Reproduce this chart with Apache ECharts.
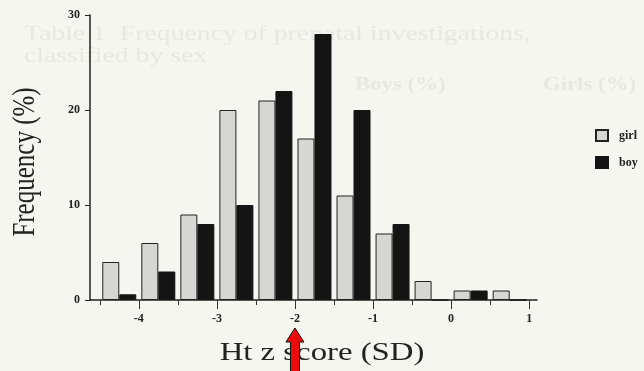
<!DOCTYPE html>
<html>
<head>
<meta charset="utf-8">
<script src="https://cdn.jsdelivr.net/npm/echarts@6/dist/echarts.min.js"></script>
<style>
  html, body { margin: 0; padding: 0; background: #f6f6f1; }
  #main { width: 644px; height: 371px; }
</style>
</head>
<body>
<div id="main"></div>
<script>
// bin mid points of the half-SD height z score classes
const binMids = [-4.25, -3.75, -3.25, -2.75, -2.25, -1.75, -1.25, -0.75, -0.25, 0.25, 0.75]
const girl = [4, 6, 9, 20, 21, 17, 11, 7, 2, 1, 1]
const boy = [0.6, 3, 8, 10, 22, 28, 20, 8, 0, 1, 0]
const xLabels = [-4, -3, -2, -1, 0, 1]
const xMinorTicks = [-4.5, -4, -3.5, -3, -2.5, -2, -1.5, -1, -0.5, 0, 0.5, 1]
const yTicks = [0, 10, 20, 30]
const arrowAt = -2

const serif = '"Liberation Serif", "DejaVu Serif", serif'
const xMin = -4.625
const xMax = 1.1
const gridBox = { left: 90, right: 107, top: 15, bottom: 71 }

const chart = echarts.init(document.getElementById('main'))

const option = {
  backgroundColor: '#f6f6f1',
  animation: false,
  grid: [Object.assign({}, gridBox), Object.assign({}, gridBox)],
  legend: {
    orient: 'vertical',
    left: 590,
    top: 124,
    itemWidth: 12,
    itemHeight: 11,
    itemGap: 14,
    icon: 'rect',
    textStyle: { fontFamily: serif, fontWeight: 'bold', fontSize: 12, color: '#222', padding: [0, 0, 0, 6] },
    data: ['girl', 'boy']
  },
  xAxis: [
    {
      type: 'value',
      gridIndex: 0,
      min: xMin,
      max: xMax,
      axisLine: { onZero: false, lineStyle: { color: '#222', width: 1.5 } },
      axisTick: { length: 5, customValues: xMinorTicks, lineStyle: { color: '#333' } },
      axisLabel: {
        margin: 13,
        customValues: xLabels,
        fontFamily: serif,
        fontWeight: 'bold',
        fontSize: 12,
        color: '#222',
        formatter: v => (v < 0 ? '-' + Math.abs(v) : String(v))
      },
      splitLine: { show: false }
    },
    {
      // longer ticks on the whole units
      type: 'value',
      gridIndex: 1,
      min: xMin,
      max: xMax,
      axisLine: { show: false },
      axisTick: { length: 9, customValues: xLabels, lineStyle: { color: '#333' } },
      axisLabel: { show: false },
      splitLine: { show: false }
    }
  ],
  yAxis: [
    {
      type: 'value',
      gridIndex: 0,
      min: yTicks[0],
      max: yTicks[yTicks.length - 1],
      interval: yTicks[1] - yTicks[0],
      axisLine: { show: true, onZero: false, lineStyle: { color: '#222', width: 1.5 } },
      axisTick: { show: true, length: 5, lineStyle: { color: '#222' } },
      axisLabel: { margin: 10, fontFamily: serif, fontWeight: 'bold', fontSize: 12, color: '#222' },
      splitLine: { show: false }
    },
    {
      type: 'value',
      gridIndex: 1,
      min: yTicks[0],
      max: yTicks[yTicks.length - 1],
      show: false
    }
  ],
  series: [
    {
      name: 'girl',
      type: 'bar',
      barWidth: 17,
      barGap: '0%',
      data: binMids.map((x, i) => [x, girl[i]]),
      itemStyle: { color: '#d6d6d3', borderColor: '#222', borderWidth: 1 }
    },
    {
      name: 'boy',
      type: 'bar',
      barWidth: 17,
      barGap: '0%',
      data: binMids.map((x, i) => [x, boy[i]]),
      itemStyle: { color: '#141414', borderColor: '#141414', borderWidth: 1 }
    }
  ]
}

chart.setOption(option)

// axis names (the scan is stretched sideways), show-through text and the red arrow
const ax = chart.convertToPixel({ xAxisIndex: 0 }, arrowAt)
const ghost = '#e8e8e1'
chart.setOption({
  graphic: [
    { type: 'text', z: -10, x: 24, y: 24, scaleX: 1.32, style: { text: 'Table 1  Frequency of prenatal investigations,', fill: ghost, font: '21px ' + serif } },
    { type: 'text', z: -10, x: 24, y: 46, scaleX: 1.32, style: { text: 'classified by sex', fill: ghost, font: '21px ' + serif } },
    { type: 'text', z: -10, x: 355, y: 76, scaleX: 1.2, style: { text: 'Boys (%)', fill: ghost, font: 'bold 19px ' + serif } },
    { type: 'text', z: -10, x: 543, y: 76, scaleX: 1.2, style: { text: 'Girls (%)', fill: ghost, font: 'bold 19px ' + serif } },
    {
      type: 'text', z: 50, x: 322, y: 353, scaleX: 1.26,
      style: { text: 'Ht z score (SD)', fill: '#222', font: '26px ' + serif, align: 'center', verticalAlign: 'middle' }
    },
    {
      type: 'text', z: 50, x: 25, y: 162, rotation: Math.PI / 2, scaleY: 1.3,
      style: { text: 'Frequency (%)', fill: '#222', font: '25px ' + serif, align: 'center', verticalAlign: 'middle' }
    },
    {
      type: 'polygon',
      z: 100,
      shape: {
        points: [
          [ax, 328], [ax + 9, 342], [ax + 4.5, 342], [ax + 4.5, 372],
          [ax - 4.5, 372], [ax - 4.5, 342], [ax - 9, 342]
        ]
      },
      style: { fill: '#ee0a0a', stroke: '#111', lineWidth: 1 }
    }
  ]
})
</script>
</body>
</html>
